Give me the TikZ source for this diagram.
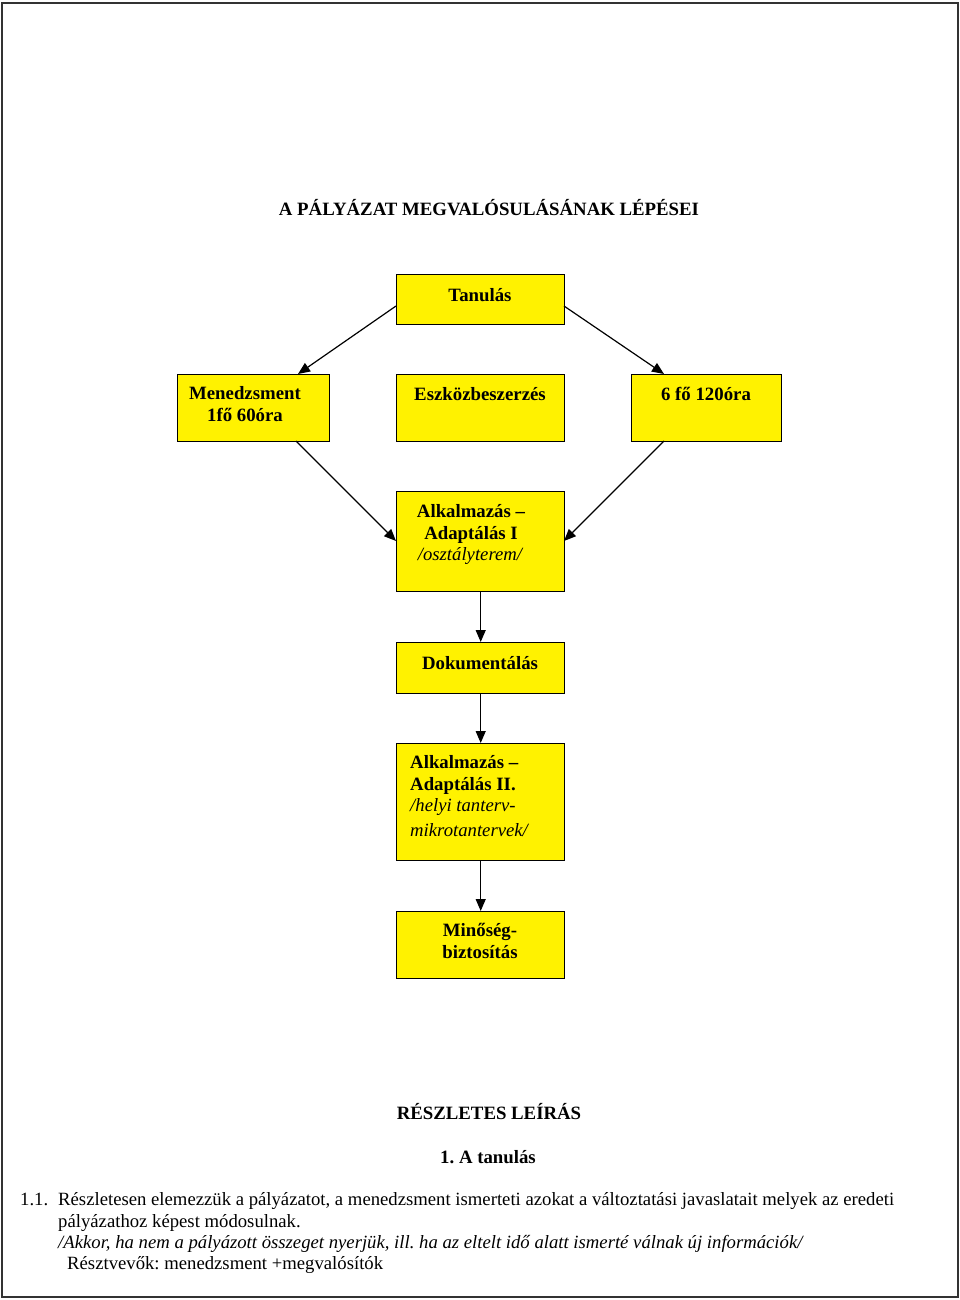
\documentclass[tikz,border=0pt]{standalone}
\usepackage{fontspec}
\setmainfont{Liberation Serif}
\usetikzlibrary{arrows.meta}
\begin{document}
\frenchspacing
\begin{tikzpicture}[x=1pt,y=-1pt,
  box/.style={draw=black, line width=1.4pt, fill=yellow, inner sep=0pt, anchor=north west},
  lbl/.style={font=\fontsize{18.8}{21}\selectfont\bfseries, inner sep=0pt, anchor=base},
  lbll/.style={font=\fontsize{18.8}{21}\selectfont\bfseries, inner sep=0pt, anchor=base west},
  ital/.style={font=\fontsize{18.7}{21}\selectfont\itshape, inner sep=0pt},
  body/.style={font=\fontsize{18.7}{21}\selectfont, inner sep=0pt, anchor=base west},
  conn/.style={line width=1.2pt, -{Triangle[length=12pt,width=10pt]}}]
\useasboundingbox (0,0) rectangle (960,1300);
\draw[line width=1.5pt, black!80] (2,3) rectangle (958,1297);

% title
\node[lbl] (title) at (489,215) {A PÁLYÁZAT MEGVALÓSULÁSÁNAK LÉPÉSEI};

% boxes
\node[box, minimum width=168pt, minimum height=50pt] (tan) at (396,274) {};
\node[box, minimum width=152pt, minimum height=67pt] (men) at (177,374) {};
\node[box, minimum width=168pt, minimum height=67pt] (esz) at (396,374) {};
\node[box, minimum width=150pt, minimum height=67pt] (hat) at (631,374) {};
\node[box, minimum width=168pt, minimum height=100pt] (alk1) at (396,491) {};
\node[box, minimum width=168pt, minimum height=51pt] (dok) at (396,642) {};
\node[box, minimum width=168pt, minimum height=117pt] (alk2) at (396,743) {};
\node[box, minimum width=168pt, minimum height=67pt] (min) at (396,911) {};

% box texts
\node[lbl] (tant) at (480,301) {Tanulás};
\node[lbl] (ment1) at (245,399) {Menedzsment};
\node[lbl] (ment2) at (245,421) {1fő 60óra};
\node[lbl] (eszt) at (480,400) {Eszközbeszerzés};
\node[lbl] (hatt) at (706,400) {6 fő 120óra};
\node[lbl] (a1t1) at (471,517) {Alkalmazás –};
\node[lbl] (a1t2) at (471,539) {Adaptálás I};
\node[ital, anchor=base] (a1t3) at (470,560) {/osztályterem/};
\node[lbl] (dokt) at (480,669) {Dokumentálás};
\node[lbll] (a2t1) at (410,768) {Alkalmazás –};
\node[lbll] (a2t2) at (410,790) {Adaptálás II.};
\node[ital, anchor=base west] (a2t3) at (410,811) {/helyi tanterv-};
\node[ital, anchor=base west] (a2t4) at (410,836) {mikrotantervek/};
\node[lbl] (mint1) at (480,936) {Minőség-};
\node[lbl] (mint2) at (480,958) {biztosítás};

% connectors
\coordinate (tanL) at (396,306);
\coordinate (tanR) at (564,306);
\coordinate (menT) at (298,374);
\coordinate (hatT) at (664,374);
\coordinate (menB) at (296,441);
\coordinate (hatB) at (664,441);
\coordinate (alkL) at (396,541);
\coordinate (alkR) at (564,541);
\draw[conn] (tanL) -- (menT);
\draw[conn] (tanR) -- (hatT);
\draw[conn] (menB) -- (alkL);
\draw[conn] (hatB) -- (alkR);
\draw[conn] (alk1.south) -- (dok.north);
\draw[conn] (dok.south) -- (alk2.north);
\draw[conn] (alk2.south) -- (min.north);

% description
\node[lbl] (resz) at (489,1119) {RÉSZLETES LEÍRÁS};
\node[lbl] (atan) at (488,1163) {1. A tanulás};
\node[body] (num) at (20,1205) {1.1.};
\node[body] (p1) at (58,1205) {Részletesen elemezzük a pályázatot, a menedzsment ismerteti azokat a változtatási javaslatait melyek az eredeti};
\node[body] (p2) at (58,1227) {pályázathoz képest módosulnak.};
\node[ital, anchor=base west] (p3) at (58,1248) {/Akkor, ha nem a pályázott összeget nyerjük, ill. ha az eltelt idő alatt ismerté válnak új információk/};
\node[body] (p4) at (67,1269) {Résztvevők: menedzsment +megvalósítók};
\end{tikzpicture}
\end{document}
